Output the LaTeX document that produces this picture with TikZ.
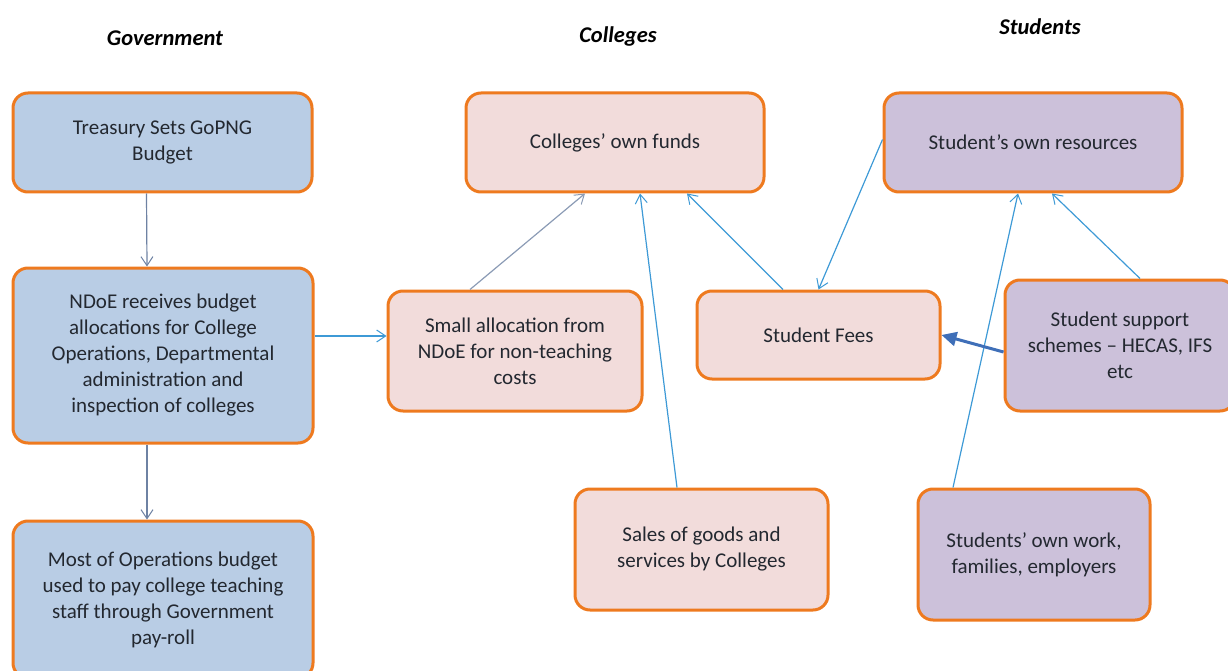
\documentclass[tikz,border=0pt]{standalone}
\usepackage{fontspec}
\setmainfont{Carlito}
\usetikzlibrary{arrows.meta,calc}

\definecolor{edgeorange}{HTML}{EE7A1F}
\definecolor{govfill}{HTML}{B9CDE5}
\definecolor{colfill}{HTML}{F2DCDB}
\definecolor{stufill}{HTML}{CCC1DA}
\definecolor{txt}{HTML}{232830}
\definecolor{flowblue}{HTML}{3E9AD6}
\definecolor{flowgray}{HTML}{6E82A3}
\definecolor{flowdark}{HTML}{3F6FB8}

\tikzset{
  box/.style={draw=edgeorange, line width=3pt, rounded corners=15pt,
    align=center, text=txt, inner sep=0pt,
    font=\fontsize{21}{26}\selectfont},
  gov/.style={box, fill=govfill},
  col/.style={box, fill=colfill},
  stu/.style={box, fill=stufill},
  heading/.style={font=\fontsize{22.5}{26}\selectfont\bfseries\itshape, text=black},
  flow/.style={-{Straight Barb[length=9pt,width=12pt,line width=1pt]}, line width=1.2pt, draw=flowblue},
  flowg/.style={flow, draw=flowgray},
  flowthick/.style={-{Triangle[length=15pt,width=14pt]}, line width=3pt, draw=flowdark, fill=flowdark},
}

\begin{document}
\begin{tikzpicture}[x=1pt,y=-1pt]
\useasboundingbox (0,0) rectangle (1228,671);
\clip (0,0) rectangle (1228,671);

% column headings
\node[heading] (hgov) at (165,38) {Government};
\node[heading] (hcol) at (618,37) {Colleges};
\node[heading] (hstu) at (1040,27) {Students};

% government column
\node[gov, minimum width=299pt, minimum height=99pt] (tre) at (162.5,142.5)
  {Treasury Sets GoPNG\\Budget};
\node[gov, minimum width=300pt, minimum height=175pt] (ndoe) at (163,355.5)
  {NDoE receives budget\\allocations for College\\Operations, Departmental\\administration and\\inspection of colleges};
\node[gov, minimum width=300pt, minimum height=157pt] (most) at (163,599.5)
  {Most of Operations budget\\used to pay college teaching\\staff through Government\\pay-roll};

% colleges column
\node[col, minimum width=298pt, minimum height=99pt] (cof) at (615,142.5)
  {Colleges' own funds};
\node[col, minimum width=254pt, minimum height=120pt] (small) at (515,351)
  {Small allocation from\\NDoE for non-teaching\\costs};
\node[col, minimum width=243pt, minimum height=88pt] (fees) at (818.5,335)
  {Student Fees};
\node[col, minimum width=253pt, minimum height=121pt] (sales) at (701.5,549.5)
  {Sales of goods and\\services by Colleges};

% students column
\node[stu, minimum width=298pt, minimum height=99pt] (sor) at (1033,142.5)
  {Student's own resources};
\node[stu, minimum width=230pt, minimum height=131pt] (sup) at (1120,345.5)
  {Student support\\schemes -- HECAS, IFS\\etc};
\node[stu, minimum width=232pt, minimum height=131pt] (work) at (1034,554.5)
  {Students' own work,\\families, employers};

% flows
\draw[flowg] ([xshift=-16pt]tre.south) -- ([xshift=-16pt]ndoe.north);
\draw[flowg] ([xshift=-16pt]ndoe.south) -- ([xshift=-16pt]most.north);
\draw[flow] ([yshift=19.5pt]ndoe.east) -- ([yshift=15pt]small.west);
\draw[flowg, draw=flowgray!80] ([xshift=-45pt]small.north) -- ([xshift=-30pt]cof.south);
\draw[flow] ([xshift=-24.5pt]sales.north) -- ([xshift=25pt]cof.south);
\draw[flow] ([xshift=-35.5pt]fees.north) -- ([xshift=72pt]cof.south);
\draw[flow] ([yshift=3pt]sor.west) -- (fees.north);
\draw[flow] ([xshift=-81pt]work.north) -- ([xshift=-15pt]sor.south);
\draw[flow] ([xshift=20pt]sup.north) -- ([xshift=19pt]sor.south);
\draw[flowthick] ([yshift=-6.5pt]sup.west) -- (fees.east);
\end{tikzpicture}
\end{document}
